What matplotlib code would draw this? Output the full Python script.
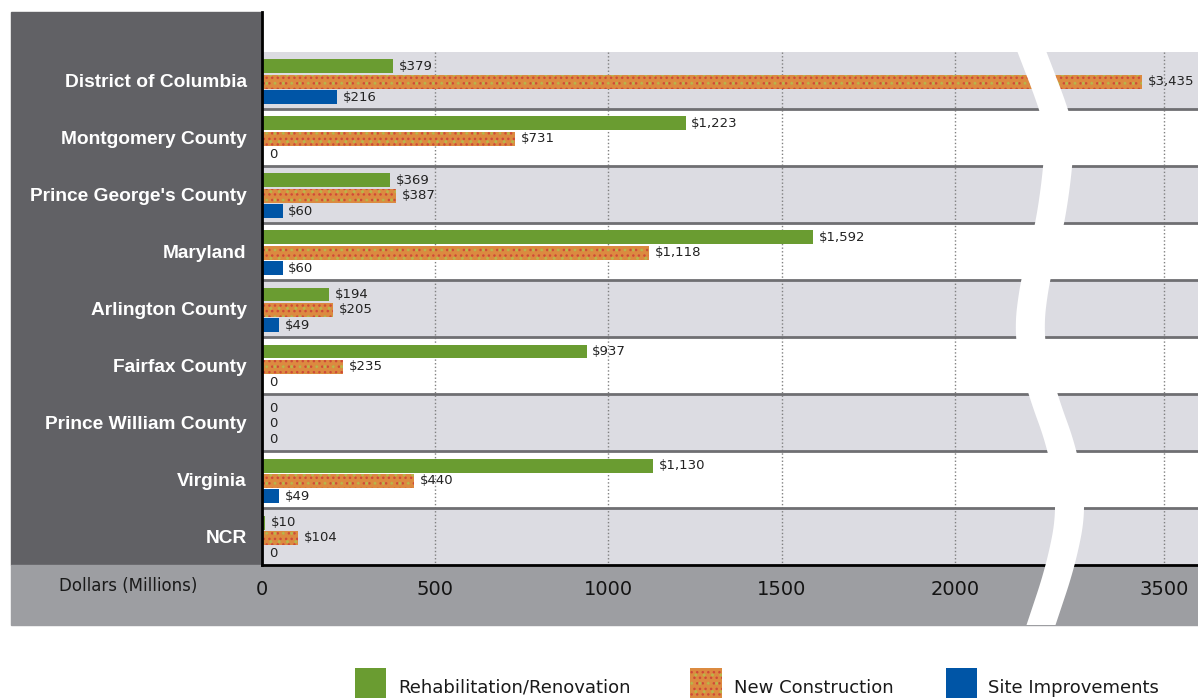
import numpy as np
import matplotlib
matplotlib.use("Agg")
import matplotlib.pyplot as plt
from matplotlib.patches import Rectangle, Polygon

# data (millions of dollars)
categories = ["District of Columbia", "Montgomery County", "Prince George's County",
              "Maryland", "Arlington County", "Fairfax County",
              "Prince William County", "Virginia", "NCR"]
rehab = [379, 1223, 369, 1592, 194, 937, 0, 1130, 10]
new_construction = [3435, 731, 387, 1118, 205, 235, 0, 440, 104]
site_improvements = [216, 0, 60, 60, 49, 0, 0, 49, 0]
xticks = [0, 500, 1000, 1500, 2000, 3500]
series_names = ["Rehabilitation/Renovation", "New Construction", "Site Improvements"]

GREEN = "#6a9c31"
ORANGE = "#dc8a40"
BLUE = "#0055a6"
BAND = "#dcdce2"

W, H = 1198, 698

# broken x axis: squeeze 2200..3155 into a short gap
A, B, G = 2200.0, 3155.0, 60.0


def fwd(x):
    x = np.asarray(x, float)
    return np.where(x <= A, x, np.where(x >= B, x - (B - A) + G, A + (x - A) * G / (B - A)))


def inv(t):
    t = np.asarray(t, float)
    return np.where(t <= A, t, np.where(t >= A + G, t + (B - A) - G, A + (t - A) * (B - A) / G))


def fx(px):
    return px / W


def fy(py):
    return 1 - py / H


def speckle(target, yy, vals, hh):
    # orange bar with two layers of dotted hatch to fake the speckled fill
    target.barh(yy, vals, height=hh, facecolor=ORANGE, edgecolor="#cf4a38",
                hatch="...", lw=0, zorder=2)
    target.barh(yy, vals, height=hh, facecolor="none", edgecolor="#b9b54a",
                hatch="..", lw=0, zorder=2.1)


fig = plt.figure(figsize=(W / 100, H / 100), dpi=100)

# left dark panel and bottom axis strip
fig.add_artist(Rectangle((fx(11), fy(565)), fx(262) - fx(11), fy(12) - fy(565),
                         transform=fig.transFigure, color="#616165", zorder=-1))
fig.add_artist(Rectangle((fx(11), fy(625)), fx(1198) - fx(11), fy(565) - fy(625),
                         transform=fig.transFigure, color="#9d9ea2", zorder=-1))

ax = fig.add_axes([fx(262), fy(565), fx(1198) - fx(262), fy(12) - fy(565)])
ax.set_xscale("function", functions=(fwd, inv))
ax.set_xlim(0, 3597)
n = len(categories)
ax.set_ylim(n - 0.5, -1.2)

for i in range(n):
    if i % 2 == 0:
        ax.axhspan(i - 0.5, i + 0.5, color=BAND, zorder=0.2, lw=0)
for i in range(n - 1):
    ax.axhline(i + 0.5, color="#6f6f72", lw=2, zorder=1)

# dotted gridlines only over the banded area
ax.vlines(xticks[1:], -0.5, n - 0.5, color="#808080", lw=1, linestyle=(0, (1, 1.6)), zorder=0.5)

y = np.arange(n)
off = 0.27
h = 0.245
yc = y + 0.025
ax.barh(yc - off, rehab, height=h, color=GREEN, zorder=2)
speckle(ax, yc, new_construction, h)
ax.barh(yc + off, site_improvements, height=h, color=BLUE, zorder=2)

for vals, dy in [(rehab, -off), (new_construction, 0), (site_improvements, off)]:
    for i, v in enumerate(vals):
        txt = f"${v:,}" if v else "0"
        ax.annotate(txt, (v, i + 0.025 + dy), xytext=(4 if v else 5, 0), textcoords="offset points",
                    va="center", ha="left", fontsize=9.5, color="#222222", zorder=3)

for s in ["top", "right"]:
    ax.spines[s].set_visible(False)
ax.spines["left"].set_color("black")
ax.spines["left"].set_linewidth(2)
ax.spines["bottom"].set_color("black")
ax.spines["bottom"].set_linewidth(2)

ax.set_xticks(xticks)
ax.set_xticklabels([str(t) for t in xticks])
ax.xaxis.set_minor_locator(matplotlib.ticker.NullLocator())
ax.tick_params(axis="x", length=0, pad=11, labelsize=14, labelcolor="#141414")
ax.set_yticks(y)
ax.set_yticklabels(categories, fontfamily="Liberation Sans", fontweight="bold",
                   fontsize=13.8, color="white")
ax.tick_params(axis="y", length=0, pad=11)

fig.text(fx(128), fy(586), "Dollars (Millions)", ha="center", va="center",
         fontsize=12, color="#1a1a1a")

# white break curve (centre line in pixels, smoothed)
pts = np.array([[1032, 52], [1054, 109], [1061, 139], [1051, 223], [1035, 278],
                [1028, 337], [1042, 393], [1063, 450], [1072, 508], [1061, 565],
                [1041, 625]], float)
for _ in range(4):
    q = 0.75 * pts[:-1] + 0.25 * pts[1:]
    r = 0.25 * pts[:-1] + 0.75 * pts[1:]
    mid = np.empty((2 * len(q), 2))
    mid[0::2] = q
    mid[1::2] = r
    pts = np.vstack([pts[:1], mid, pts[-1:]])
half = 14.5
left = np.column_stack([fx(pts[:, 0] - half), fy(pts[:, 1])])
right = np.column_stack([fx(pts[::-1, 0] + half), fy(pts[::-1, 1])])
fig.add_artist(Polygon(np.vstack([left, right]), closed=True, transform=fig.transFigure,
                       color="white", lw=0, zorder=10))

# legend
text_x = [398, 734, 988]
fig.add_artist(Rectangle((fx(355), fy(705)), fx(31), fy(668) - fy(705), transform=fig.transFigure,
                         color=GREEN, lw=0))
fig.add_artist(Rectangle((fx(690), fy(705)), fx(32), fy(668) - fy(705), transform=fig.transFigure,
                         facecolor=ORANGE, edgecolor="#cf4a38", hatch="...", lw=0))
fig.add_artist(Rectangle((fx(690), fy(705)), fx(32), fy(668) - fy(705), transform=fig.transFigure,
                         facecolor="none", edgecolor="#b9b54a", hatch="..", lw=0))
fig.add_artist(Rectangle((fx(946), fy(705)), fx(31), fy(668) - fy(705), transform=fig.transFigure,
                         color=BLUE, lw=0))
for tx, name in zip(text_x, series_names):
    fig.text(fx(tx), fy(688), name, ha="left", va="center", fontsize=13, color="#1a1a1a")

fig.savefig("out.png", dpi=100)
